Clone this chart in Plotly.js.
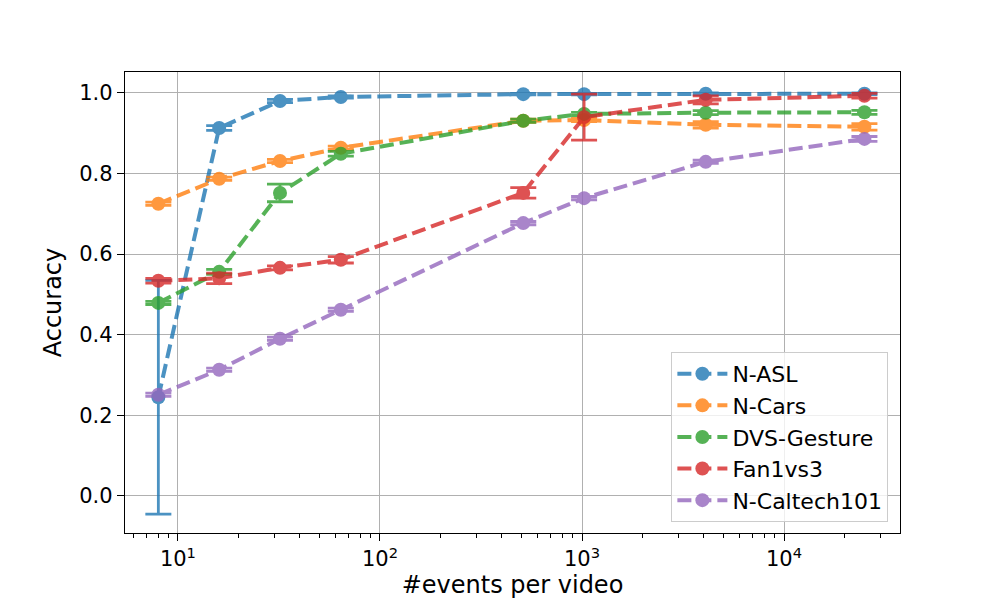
<!DOCTYPE html>
<html>
<head>
<meta charset="utf-8">
<script src="https://cdn.plot.ly/plotly-3.0.1.min.js"></script>
<style>
  body { margin: 0; background: white; }
  #chart { width: 1000px; height: 600px; }
</style>
</head>
<body>
<div id="chart"></div>
<script>
// events per video (x)
const events = [8, 16, 32, 64, 512, 1024, 4096, 25000];

// accuracy per dataset
const nAsl = [0.245, 0.913, 0.980, 0.990, 0.997, 0.997, 0.998, 0.998];
const nAslErr = [0.290, 0.006, 0.004, 0.003, 0.002, 0.002, 0.002, 0.002];

const nCars = [0.725, 0.787, 0.831, 0.864, 0.931, 0.933, 0.921, 0.916];
const nCarsErr = [0.004, 0.004, 0.004, 0.004, 0.004, 0.004, 0.008, 0.008];

const dvsGesture = [0.479, 0.556, 0.752, 0.849, 0.931, 0.948, 0.951, 0.952];
const dvsGestureErr = [0.004, 0.006, 0.022, 0.006, 0.004, 0.004, 0.005, 0.005];

const fan1vs3 = [0.534, 0.540, 0.566, 0.586, 0.752, 0.940, 0.983, 0.993];
const fan1vs3Err = [0.006, 0.013, 0.005, 0.008, 0.013, 0.057, 0.010, 0.006];

const nCaltech = [0.251, 0.313, 0.390, 0.462, 0.677, 0.739, 0.829, 0.886];
const nCaltechErr = [0.004, 0.004, 0.004, 0.004, 0.004, 0.004, 0.004, 0.006];

const seriesNames = ["N-ASL", "N-Cars", "DVS-Gesture", "Fan1vs3", "N-Caltech101"];
const seriesValues = [nAsl, nCars, dvsGesture, fan1vs3, nCaltech];
const seriesErrors = [nAslErr, nCarsErr, dvsGestureErr, fan1vs3Err, nCaltechErr];
const colors = ["#1f77b4", "#ff7f0e", "#2ca02c", "#d62728", "#9467bd"];

// major / minor ticks on the log axis
const majorTicks = [10, 100, 1000, 10000];
const majorText = ["10<sup>1</sup>", "10<sup>2</sup>", "10<sup>3</sup>", "10<sup>4</sup>"];
const minorTicks = [];
[1, 10, 100, 1000, 10000].forEach((p) => {
  for (let d = 2; d <= 9; d++) minorTicks.push(d * p);
});

const traces = seriesNames.map((name, i) => ({
  x: events,
  y: seriesValues[i],
  name: name,
  type: "scatter",
  mode: "lines+markers",
  opacity: 0.8,
  line: { color: colors[i], width: 4, dash: "14px,6px" },
  marker: { color: colors[i], size: 14 },
  error_y: { type: "data", array: seriesErrors[i], visible: true, color: colors[i], thickness: 2.8, width: 13 },
}));

const axisFont = { family: "DejaVu Sans", size: 21, color: "black" };
const titleFont = { family: "DejaVu Sans", size: 24, color: "black" };

const layout = {
  width: 1000,
  height: 600,
  paper_bgcolor: "white",
  plot_bgcolor: "white",
  font: { family: "DejaVu Sans", color: "black" },
  margin: { l: 125, r: 100, t: 72, b: 67 },
  showlegend: true,
  xaxis: {
    type: "log",
    range: [0.738, 4.574],
    tickvals: majorTicks,
    ticktext: majorText,
    tickfont: axisFont,
    ticks: "outside",
    ticklen: 7,
    tickwidth: 1,
    tickcolor: "black",
    showgrid: true,
    gridcolor: "#b0b0b0",
    gridwidth: 1,
    zeroline: false,
    showline: true,
    linecolor: "black",
    linewidth: 1.2,
    mirror: true,
    minor: { tickvals: minorTicks, ticks: "outside", ticklen: 4, tickcolor: "black", showgrid: false },
    title: { text: "#events per video", font: titleFont, standoff: 4 },
  },
  yaxis: {
    range: [-0.092, 1.052],
    tickvals: [0, 0.2, 0.4, 0.6, 0.8, 1.0],
    ticktext: ["0.0", "0.2", "0.4", "0.6", "0.8", "1.0"],
    tickfont: axisFont,
    ticks: "outside",
    ticklen: 7,
    tickwidth: 1,
    tickcolor: "black",
    showgrid: true,
    gridcolor: "#b0b0b0",
    gridwidth: 1,
    zeroline: false,
    showline: true,
    linecolor: "black",
    linewidth: 1.2,
    mirror: true,
    title: { text: "Accuracy", font: titleFont, standoff: 10 },
  },
  legend: {
    x: 0.985,
    y: 0.024,
    xanchor: "right",
    yanchor: "bottom",
    bgcolor: "rgba(255,255,255,0.8)",
    bordercolor: "#cccccc",
    borderwidth: 1,
    font: { family: "DejaVu Sans", size: 22 },
    itemwidth: 50,
  },
};

Plotly.newPlot("chart", traces, layout, { displayModeBar: false, staticPlot: true });
</script>
</body>
</html>
